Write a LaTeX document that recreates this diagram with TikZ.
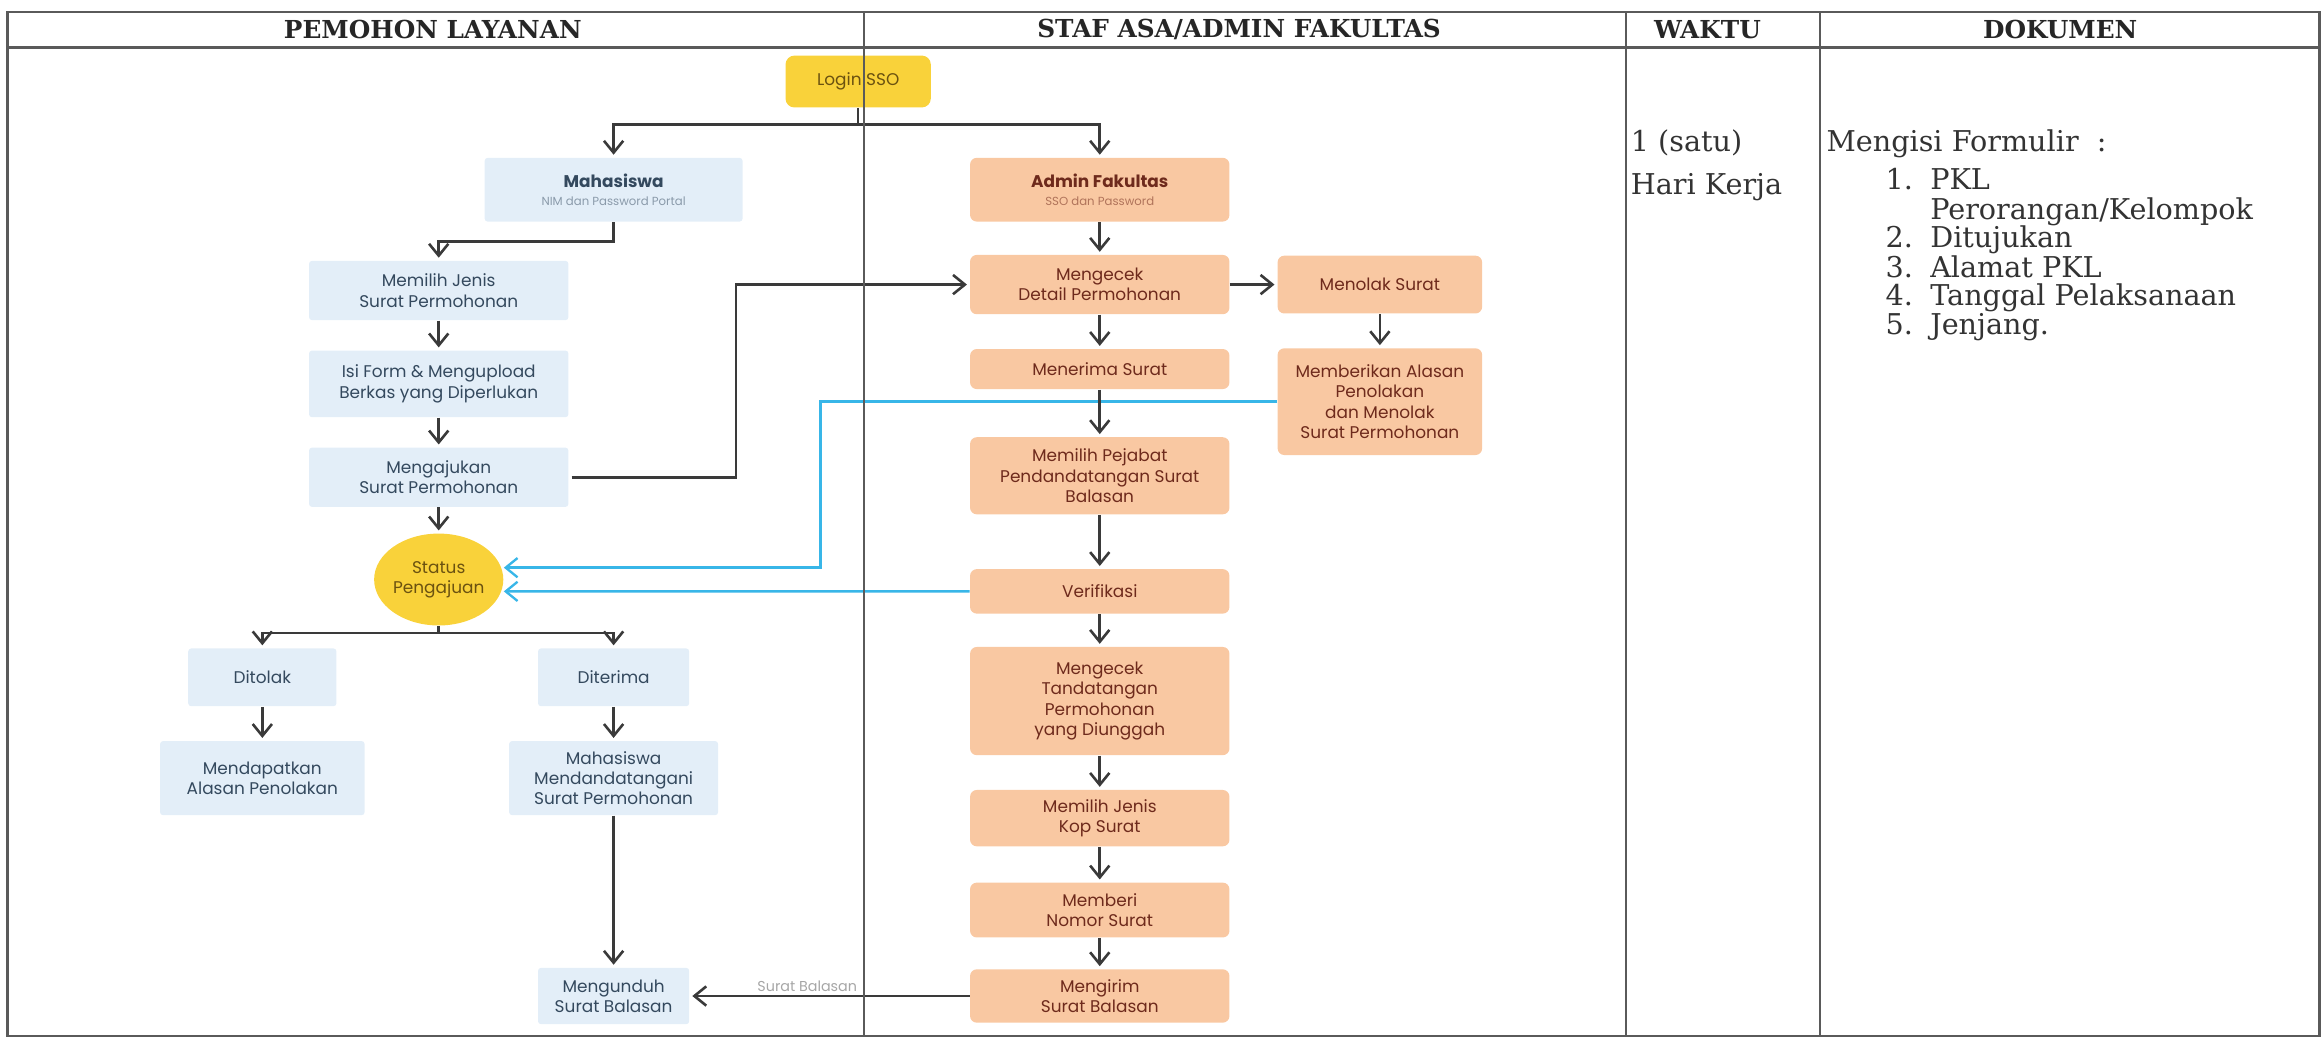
\documentclass[tikz,border=0pt]{standalone}
\usepackage{fontspec}
\setmainfont{DejaVu Serif}
\newfontfamily\boxfont{Poppins}
\usetikzlibrary{arrows.meta,shapes.geometric}

\definecolor{boxblue}{HTML}{E3EEF8}
\definecolor{boxpeach}{HTML}{F9C8A2}
\definecolor{sun}{HTML}{F9D23A}
\definecolor{bluetext}{HTML}{34495E}
\definecolor{peachtext}{HTML}{6E2A1C}
\definecolor{suntext}{HTML}{6B5210}
\definecolor{subgray}{HTML}{8A9AAA}
\definecolor{subpeach}{HTML}{B0735A}
\definecolor{linkblue}{HTML}{38B6E8}
\definecolor{linegray}{HTML}{3A3A3A}
\definecolor{rulegray}{HTML}{5A5A5A}

\begin{document}
\begin{tikzpicture}[x=0.2mm, y=-0.2mm,
	lightbox/.style={rectangle, fill=boxblue, text=bluetext, align=center, inner sep=1pt, rounded corners=0.4mm, minimum width=35mm, font=\boxfont\fontsize{6.5}{7.8}\selectfont},
	peachbox/.style={rectangle, fill=boxpeach, text=peachtext, align=center, inner sep=1pt, rounded corners=0.9mm, minimum width=35mm, font=\boxfont\fontsize{6.5}{7.8}\selectfont},
	sunbox/.style={rectangle, fill=sun, text=suntext, align=center, rounded corners=1.2mm, font=\boxfont\fontsize{6.5}{7.8}\selectfont},
	decision/.style={ellipse, fill=sun, text=suntext, align=center, inner sep=0pt, font=\boxfont\fontsize{6.5}{7.8}\selectfont},
	connect/.style={-{Straight Barb[length=1.6mm,width=2.6mm]}, line width=1pt, draw=linegray, shorten >=1pt},
	plain/.style={line width=1pt, draw=linegray},
	bluelink/.style={-{Straight Barb[length=1.6mm,width=2.6mm]}, line width=0.9pt, draw=linkblue},
	rule/.style={draw=rulegray, line width=0.6pt},
	headtext/.style={font=\bfseries\fontsize{9.5}{11}\selectfont, text=black!85},
	celltext/.style={anchor=base west, inner sep=0pt, font=\fontsize{11}{11}\selectfont, text=black!80},
	arrowlabel/.style={font=\boxfont\fontsize{5.5}{6}\selectfont, text=gray!70, inner sep=1pt},
	]
	
	\useasboundingbox (0,0) rectangle (1568,701);
	
	%-----------------------
	% Column positions
	%-----------------------
	\def\xlogin{579}
	\def\xmhs{414}
	\def\xleft{296}
	\def\xtolak{177}
	\def\xadmin{742}
	\def\xside{931}
	
	%-----------------------
	% Header row
	%-----------------------
	\node[headtext] (hpemohon) at (292,20) {PEMOHON LAYANAN};
	\node[headtext] (hstaf) at (836,20) {STAF ASA/ADMIN FAKULTAS};
	\node[headtext] (hwaktu) at (1152,20) {WAKTU};
	\node[headtext] (hdokumen) at (1390,20) {DOKUMEN};
	
	%-----------------------
	% Start
	%-----------------------
	\node[sunbox, minimum width=19.6mm, minimum height=7mm] (login) at (\xlogin,55) {Login SSO};
	
	%-----------------------
	% Pemohon layanan
	%-----------------------
	\node[lightbox, minimum width=34.8mm, minimum height=8.6mm] (mhs) at (\xmhs,128) {{\bfseries Mahasiswa}\\[-1pt]{\fontsize{4.5}{5}\selectfont\color{subgray}NIM dan Password Portal}};
	\node[lightbox, minimum height=8mm] (jenis) at (\xleft,196) {Memilih Jenis\\Surat Permohonan};
	\node[lightbox, minimum height=9mm] (form) at (\xleft,259) {Isi Form \& Mengupload\\Berkas yang Diperlukan};
	\node[lightbox, minimum height=8mm] (ajukan) at (\xleft,322) {Mengajukan\\Surat Permohonan};
	\node[decision, minimum width=16.4mm, minimum height=12.4mm] (status) at (\xleft,391) {Status\\Pengajuan};
	\node[lightbox, minimum width=20mm, minimum height=7.8mm] (tolak) at (\xtolak,457) {Ditolak};
	\node[lightbox, minimum width=27.6mm, minimum height=10mm] (alasan) at (\xtolak,525) {Mendapatkan\\Alasan Penolakan};
	\node[lightbox, minimum width=20.4mm, minimum height=7.8mm] (terima) at (\xmhs,457) {Diterima};
	\node[lightbox, minimum width=28.2mm, minimum height=10mm] (ttd) at (\xmhs,525) {Mahasiswa\\Mendandatangani\\Surat Permohonan};
	\node[lightbox, minimum width=20.4mm, minimum height=7.6mm] (unduh) at (\xmhs,672) {Mengunduh\\Surat Balasan};
	
	%-----------------------
	% Staf ASA / admin fakultas
	%-----------------------
	\node[peachbox, minimum height=8.6mm] (admin) at (\xadmin,128) {{\bfseries Admin Fakultas}\\[-1pt]{\fontsize{4.5}{5}\selectfont\color{subpeach}SSO dan Password}};
	\node[peachbox, minimum height=8mm] (cek) at (\xadmin,192) {Mengecek\\Detail Permohonan};
	\node[peachbox, minimum width=27.6mm, minimum height=7.8mm] (tolaksurat) at (\xside,192) {Menolak Surat};
	\node[peachbox, minimum width=27.6mm, minimum height=14.4mm] (beri) at (\xside,271) {Memberikan Alasan\\Penolakan\\dan Menolak\\Surat Permohonan};
	\node[peachbox, minimum height=5.4mm] (terimasurat) at (\xadmin,249) {Menerima Surat};
	\node[peachbox, minimum height=10.4mm] (pejabat) at (\xadmin,321) {Memilih Pejabat\\Pendandatangan Surat\\Balasan};
	\node[peachbox, minimum height=6mm] (verif) at (\xadmin,399) {Verifikasi};
	\node[peachbox, minimum height=14.6mm] (cekttd) at (\xadmin,473) {Mengecek\\Tandatangan\\Permohonan\\yang Diunggah};
	\node[peachbox, minimum height=7.6mm] (kop) at (\xadmin,552) {Memilih Jenis\\Kop Surat};
	\node[peachbox, minimum height=7.4mm] (nomor) at (\xadmin,614) {Memberi\\Nomor Surat};
	\node[peachbox, minimum height=7.2mm] (kirim) at (\xadmin,672) {Mengirim\\Surat Balasan};
	
	%-----------------------
	% Waktu and dokumen
	%-----------------------
	\node[celltext] (satu) at (1100,102) {1 (satu)};
	\node[celltext] (kerja) at (1100,131) {Hari Kerja};
	\node[celltext] (isi) at (1232,102) {Mengisi Formulir~~:};
	\node[celltext, anchor=base east] (n1) at (1291,128) {1.};
	\node[celltext] (d1) at (1302,128) {PKL};
	\node[celltext] (d1b) at (1302,148) {Perorangan/Kelompok};
	\node[celltext, anchor=base east] (n2) at (1291,167) {2.};
	\node[celltext] (d2) at (1302,167) {Ditujukan};
	\node[celltext, anchor=base east] (n3) at (1291,187) {3.};
	\node[celltext] (d3) at (1302,187) {Alamat PKL};
	\node[celltext, anchor=base east] (n4) at (1291,206) {4.};
	\node[celltext] (d4) at (1302,206) {Tanggal Pelaksanaan};
	\node[celltext, anchor=base east] (n5) at (1291,226) {5.};
	\node[celltext] (d5) at (1302,226) {Jenjang.};
	
	%-----------------------
	% Connections
	%-----------------------
	\coordinate (split) at (\xlogin,84);
	\coordinate (fork) at (\xleft,427);
	
	% Login -> both lanes
	\draw[plain] (login.south) -- (split);
	\draw[connect] (split) -| (mhs.north);
	\draw[connect] (split) -| (admin.north);
	
	% Pemohon lane
	\draw[connect] (mhs.south) -- ++(0,13) -| (jenis.north);
	\draw[connect] (jenis) -- (form);
	\draw[connect] (form) -- (ajukan);
	\draw[connect] (ajukan) -- (status);
	\draw[connect] ([xshift=1pt]ajukan.east) -- ++(111,0) |- (cek.west);
	\draw[plain] (status.south) -- (fork);
	\draw[connect] (fork) -| (tolak.north);
	\draw[connect] (fork) -| (terima.north);
	\draw[connect] (tolak) -- (alasan);
	\draw[connect] (terima) -- (ttd);
	\draw[connect] (ttd) -- (unduh);
	
	% Feedback to status
	\draw[bluelink] (beri.west) -- ++(-308,0) |- ([yshift=1.6mm]status.east);
	\draw[bluelink] (verif.west) -- ([yshift=-1.6mm]status.east);
	
	% Admin lane
	\draw[connect] (admin) -- (cek);
	\draw[connect] (cek) -- (tolaksurat);
	\draw[connect] (tolaksurat) -- (beri);
	\draw[connect] (cek) -- (terimasurat);
	\draw[connect] (terimasurat) -- (pejabat);
	\draw[connect] (pejabat) -- (verif);
	\draw[connect] (verif) -- (cekttd);
	\draw[connect] (cekttd) -- (kop);
	\draw[connect] (kop) -- (nomor);
	\draw[connect] (nomor) -- (kirim);
	\draw[connect] (kirim.west) -- node[pos=0.58, above, arrowlabel] {Surat Balasan} (unduh.east);
	
	%-----------------------
	% Table rules
	%-----------------------
	\draw[rule, line width=0.9pt] (5,8) rectangle (1565,699);
	\draw[rule, line width=0.9pt] (5,32) -- (1565,32);
	\draw[rule] (583,8) -- (583,699);
	\draw[rule] (1097,8) -- (1097,699);
	\draw[rule] (1228,8) -- (1228,699);
	
\end{tikzpicture}
\end{document}
